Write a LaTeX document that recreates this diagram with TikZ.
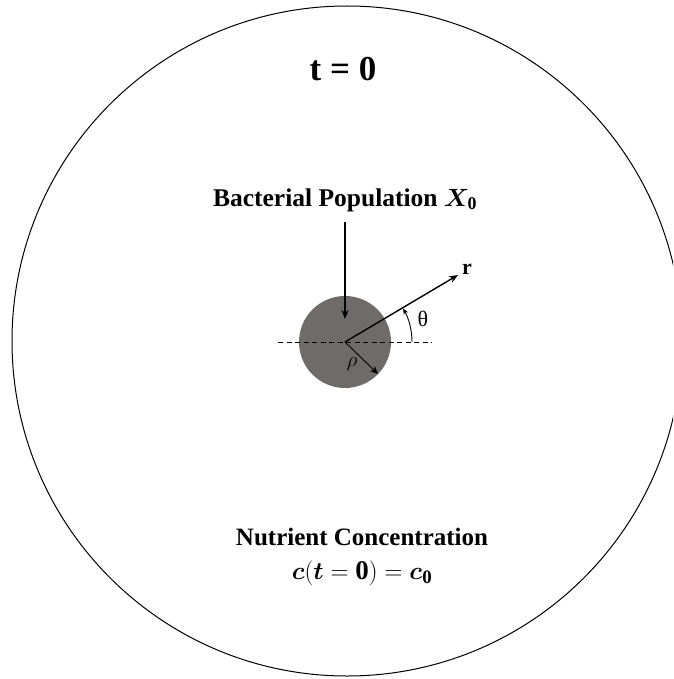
\documentclass[tikz,border=0pt]{standalone}
\usepackage{amsmath,bm}
\usepackage{fontspec}
\setmainfont{Liberation Serif}
\usetikzlibrary{arrows.meta,calc}
\definecolor{popgray}{RGB}{112,107,107}
\begin{document}
\begin{tikzpicture}[x=1pt,y=-1pt,
  lbl/.style={inner sep=0pt,font=\bfseries},
  arr/.style={-{Stealth[length=9pt,width=7pt]},line width=1.4pt}]
\useasboundingbox (0,0) rectangle (673,679);
\clip (0,0) rectangle (673,679);
\node[circle,draw,line width=1pt,minimum size=670pt,inner sep=0pt] (dish) at (347,341) {};
\node[circle,fill=popgray,minimum size=92pt,inner sep=0pt] (pop) at (345,342) {};
\coordinate (c) at (345,342);
\coordinate (dl) at (278,342);
\coordinate (dr) at (432,342);
\draw[dash pattern=on 5pt off 3.5pt,line width=0.9pt] (dl) -- (dr);
\node[lbl,font=\bfseries\fontsize{35}{40}\selectfont] (t0) at (343,69) {t = 0};
\node[lbl,font=\bfseries\fontsize{25.5}{28}\selectfont] (bp) at (345,200) {Bacterial Population $\bm{X}_{\mathbf{0}}$};
\coordinate (bpa) at (345,222);
\coordinate (bpb) at (345,319);
\draw[arr] (bpa) -- (bpb);
\coordinate (rt) at (458,275);
\draw[arr] (c) -- (rt);
\node[lbl,font=\bfseries\fontsize{22}{24}\selectfont] (r) at (467,269) {r};
\draw[-{Stealth[length=6pt,width=5pt,open]},line width=0.9pt] ($(c)+(67,0)$) arc[start angle=0,end angle=30,radius=67pt];
\node[inner sep=0pt,font=\fontsize{22}{24}\selectfont] (th) at (423,319) {θ};
\coordinate (rh) at (378,374);
\draw[-{Stealth[length=8pt,width=7pt]},line width=0.9pt] (c) -- (rh);
\node[inner sep=0pt,font=\fontsize{22}{24}\selectfont] (rho) at (352,364) {$\rho$};
\node[lbl,font=\bfseries\fontsize{25}{28}\selectfont] (nc) at (362,537) {Nutrient Concentration};
\node[lbl,font=\fontsize{27}{30}\selectfont] (eq) at (362,573) {$\bm{c}(\bm{t}=\mathbf{0})=\bm{c}_{\mathbf{0}}$};
\end{tikzpicture}
\end{document}
